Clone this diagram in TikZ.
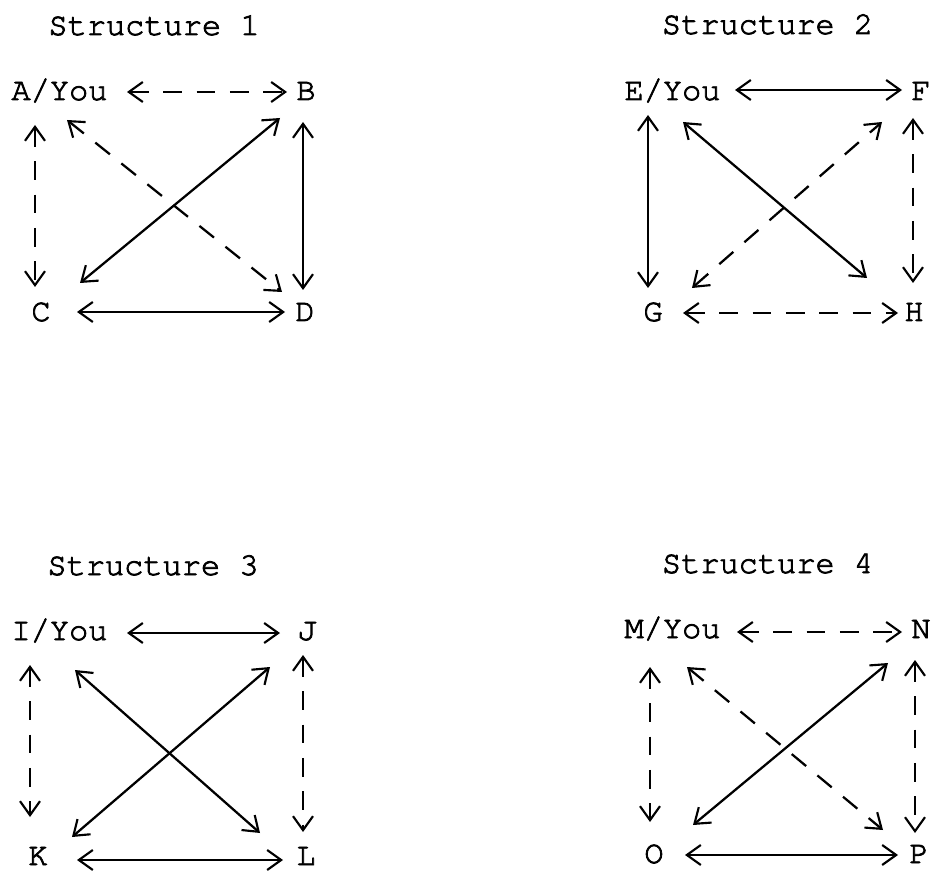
\documentclass[tikz,border=0pt]{standalone}
\usepackage{fontspec}
\setmonofont{TeX Gyre Cursor}[FakeBold=2.5]
\usetikzlibrary{arrows.meta}
\tikzset{
  lbl/.style={inner sep=0pt, anchor=base, font=\ttfamily\fontsize{24}{28}\selectfont},
  ttl/.style={inner sep=0pt, anchor=base, font=\ttfamily\fontsize{24}{28}\selectfont},
  biarrow/.style={line width=1.7pt, {Straight Barb[length=10.5pt,width=15pt,line width=1.6pt]}-{Straight Barb[length=10.5pt,width=15pt,line width=1.6pt]}},
  dsh/.style={dash pattern=on 14pt off 11pt}
}
\begin{document}
\begin{tikzpicture}[x=0.75pt,y=-0.75pt]
\useasboundingbox (0,0) rectangle (935,873);
% ---------- Structure 1 ----------
\node[ttl] (t1) at (154,35) {Structure 1};
\node[lbl] (A) at (59.5,100) {A/You};
\node[lbl] (B) at (306,100) {B};
\node[lbl] (C) at (41,321) {C};
\node[lbl] (D) at (305,321) {D};
\coordinate (A-r) at (127,92);  \coordinate (B-l) at (287,92);
\coordinate (A-b) at (35,125);  \coordinate (C-t) at (35,287);
\coordinate (B-b) at (303,122); \coordinate (D-t) at (303,290);
\coordinate (C-r) at (77,312);  \coordinate (D-l) at (285,312);
\coordinate (C-tr) at (80,283); \coordinate (B-bl) at (280,118);
\coordinate (A-br) at (67,120); \coordinate (D-tl) at (282,292);
\draw[biarrow,dsh] (A-r) -- (B-l);
\draw[biarrow,dsh] (A-b) -- (C-t);
\draw[biarrow] (B-b) -- (D-t);
\draw[biarrow] (C-r) -- (D-l);
\draw[biarrow] (C-tr) -- (B-bl);
\draw[biarrow,dsh] (A-br) -- (D-tl);
% ---------- Structure 2 ----------
\node[ttl] (t2) at (767.5,34) {Structure 2};
\node[lbl] (E) at (672.5,100) {E/You};
\node[lbl] (F) at (921,100) {F};
\node[lbl] (G) at (653,321) {G};
\node[lbl] (H) at (914,321) {H};
\coordinate (E-r) at (735,90);  \coordinate (F-l) at (902,90);
\coordinate (E-b) at (648,115); \coordinate (G-t) at (648,288);
\coordinate (F-b) at (913,118); \coordinate (H-t) at (913,283);
\coordinate (G-r) at (683,313); \coordinate (H-l) at (898,313);
\coordinate (E-br) at (683,122); \coordinate (H-tl) at (867,278);
\coordinate (G-tr) at (692,288); \coordinate (F-bl) at (882,122);
\draw[biarrow] (E-r) -- (F-l);
\draw[biarrow] (E-b) -- (G-t);
\draw[biarrow,dsh] (F-b) -- (H-t);
\draw[biarrow,dsh] (G-r) -- (H-l);
\draw[biarrow] (E-br) -- (H-tl);
\draw[biarrow,dsh] (G-tr) -- (F-bl);
% ---------- Structure 3 ----------
\node[ttl] (t3) at (153,575) {Structure 3};
\node[lbl] (I) at (59.5,640) {I/You};
\node[lbl] (J) at (307,640) {J};
\node[lbl] (K) at (38,865) {K};
\node[lbl] (L) at (306,865) {L};
\coordinate (I-r) at (127,633); \coordinate (J-l) at (280,633);
\coordinate (I-b) at (30,665);  \coordinate (K-t) at (30,817);
\coordinate (J-b) at (303,655); \coordinate (L-t) at (303,832);
\coordinate (K-r) at (77,860);  \coordinate (L-l) at (283,860);
\coordinate (K-tr) at (72,837); \coordinate (J-bl) at (270,667);
\coordinate (I-br) at (75,670); \coordinate (L-tl) at (260,833);
\draw[biarrow] (I-r) -- (J-l);
\draw[biarrow,dsh] (I-b) -- (K-t);
\draw[biarrow,dsh] (J-b) -- (L-t);
\draw[biarrow] (K-r) -- (L-l);
\draw[biarrow] (K-tr) -- (J-bl);
\draw[biarrow] (I-br) -- (L-tl);
% ---------- Structure 4 ----------
\node[ttl] (t4) at (767.5,573) {Structure 4};
\node[lbl] (M) at (672.5,638) {M/You};
\node[lbl] (N) at (921,638) {N};
\node[lbl] (O) at (654,863) {O};
\node[lbl] (P) at (919,863) {P};
\coordinate (M-r) at (737,632); \coordinate (N-l) at (902,632);
\coordinate (M-b) at (650,667); \coordinate (O-t) at (650,822);
\coordinate (N-b) at (915,660); \coordinate (P-t) at (915,833);
\coordinate (O-r) at (685,855); \coordinate (P-l) at (898,855);
\coordinate (O-tr) at (693,825); \coordinate (N-bl) at (888,663);
\coordinate (M-br) at (687,667); \coordinate (P-tl) at (883,830);
\draw[biarrow,dsh] (M-r) -- (N-l);
\draw[biarrow,dsh] (M-b) -- (O-t);
\draw[biarrow,dsh] (N-b) -- (P-t);
\draw[biarrow] (O-r) -- (P-l);
\draw[biarrow] (O-tr) -- (N-bl);
\draw[biarrow,dsh] (M-br) -- (P-tl);
\end{tikzpicture}
\end{document}
